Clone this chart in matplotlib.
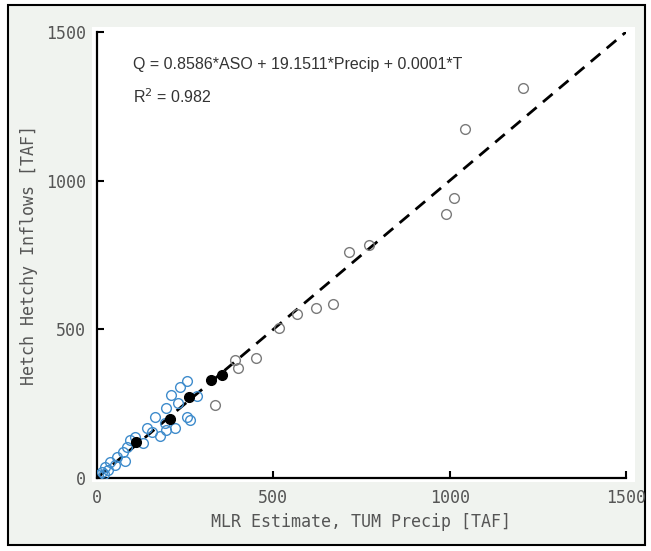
import matplotlib
matplotlib.use('Agg')
import matplotlib.pyplot as plt
from matplotlib.patches import Rectangle

# valores (TAF)
gray_x = [1208, 1043, 1012, 990, 771, 715, 668, 621, 566, 517, 452, 400, 392, 335]
gray_y = [1312, 1174, 942, 888, 783, 760, 585, 571, 551, 503, 403, 371, 396, 246]

black_x = [355, 323, 262, 208, 110]
black_y = [347, 330, 272, 198, 122]

blue_x = [254, 235, 209, 230, 197, 284, 254, 264, 164, 193, 141, 221, 179, 197,
          155, 108, 94, 131, 84, 75, 56, 79, 37, 51, 23, 13, 4, 20, 30]
blue_y = [327, 305, 279, 251, 234, 275, 206, 196, 204, 184, 167, 167, 141, 161,
          156, 139, 128, 117, 103, 88, 72, 58, 55, 44, 38, 21, 10, 15, 28]

line_x = [0, 1500]
line_y = [0, 1500]

fig = plt.figure(figsize=(6.51, 5.51), dpi=100)
fig.patch.set_facecolor('white')

# fundo e moldura da captura
fig.add_artist(Rectangle((8/651, 1-545/551), 637/651, 540/551, transform=fig.transFigure,
                         facecolor='#f0f3ef', edgecolor='black', linewidth=1.5, zorder=-2))
fig.add_artist(Rectangle((92/651, 1-482/551), 543/651, 455/551, transform=fig.transFigure,
                         facecolor='white', edgecolor='none', zorder=-1))

ax = fig.add_axes([97/651, 1-478/551, 529/651, 446/551])
ax.set_facecolor('none')

ax.plot(line_x, line_y, color='black', linestyle=(0, (4.5, 3)), linewidth=2, zorder=2)
ax.plot(blue_x, blue_y, 'o', mfc='none', mec='#3f8ccc', ms=7, mew=1, zorder=3)
ax.plot(gray_x, gray_y, 'o', mfc='none', mec='#7a7a7a', ms=7, mew=1, zorder=3)
ax.plot(black_x, black_y, 'o', mfc='black', mec='black', ms=7, zorder=4)

ax.set_xlim(0, 1500)
ax.set_ylim(0, 1500)
ax.set_xticks([0, 500, 1000, 1500])
ax.set_yticks([0, 500, 1000, 1500])

for s in ['top', 'right']:
    ax.spines[s].set_visible(False)
for s in ['left', 'bottom']:
    ax.spines[s].set_linewidth(1.6)

ax.tick_params(direction='in', length=5, width=1.5, colors='black', labelcolor='#555555',
               labelsize=12, pad=8)
for lab in ax.get_xticklabels() + ax.get_yticklabels():
    lab.set_family('DejaVu Sans Mono')

ax.set_xlabel("MLR Estimate, TUM Precip [TAF]", family='DejaVu Sans Mono', fontsize=12,
              color='#555555', labelpad=4)
ax.set_ylabel("Hetch Hetchy Inflows [TAF]", family='DejaVu Sans Mono', fontsize=12,
              color='#555555', labelpad=6)

ax.text(0.068, 0.928, "Q = 0.8586*ASO + 19.1511*Precip + 0.0001*T", transform=ax.transAxes,
        family='Liberation Sans', fontsize=11.5, color='#333333', va='center')
ax.text(0.068, 0.855, "R$^2$ = 0.982", transform=ax.transAxes,
        family='Liberation Sans', fontsize=11.5, color='#333333', va='center')

fig.savefig('out.png', dpi=100, facecolor=fig.get_facecolor())
